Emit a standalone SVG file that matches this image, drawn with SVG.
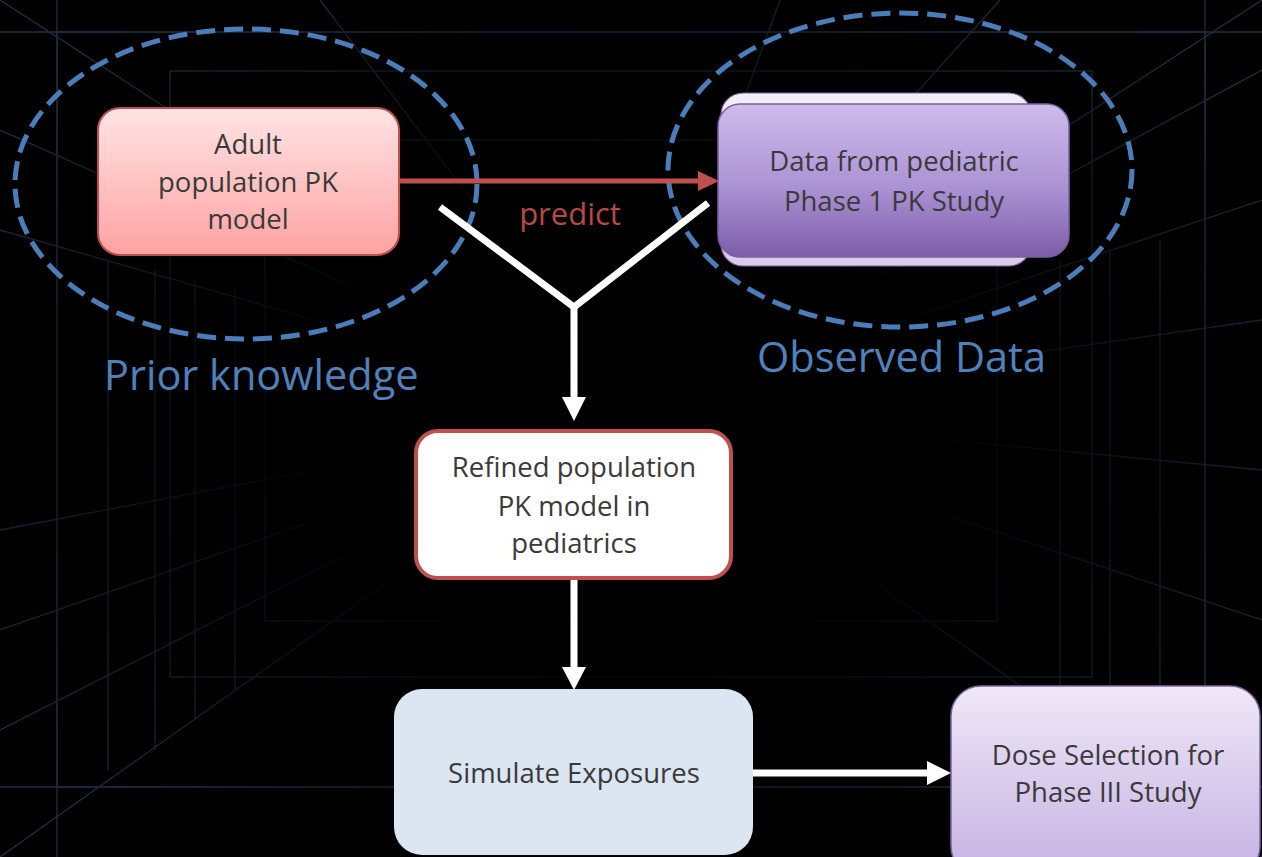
<svg xmlns="http://www.w3.org/2000/svg" width="1262" height="857" viewBox="0 0 1262 857">
<defs>
<style>
.grid line, .grid rect { stroke:#1f2e44; stroke-width:1.3; fill:none; }
.t { font-family:"Open Sans","Noto Sans",sans-serif; fill:#3a3a3a; text-anchor:middle; font-size:27.5px; }
.lbl { font-family:"Open Sans","Noto Sans",sans-serif; fill:#4f81bd; font-size:41.5px; }
.dash { fill:none; stroke:#4a7ebb; stroke-width:5; stroke-dasharray:19 9; }
.wl { stroke:#ffffff; stroke-width:7; fill:none; }
</style>
<linearGradient id="gAdult" x1="0" y1="0" x2="0" y2="1"><stop offset="0" stop-color="#ffe4e4"/><stop offset="1" stop-color="#ffa2a2"/></linearGradient>
<linearGradient id="gData" x1="0" y1="0" x2="0" y2="1"><stop offset="0" stop-color="#cfbbec"/><stop offset="0.55" stop-color="#ab92d4"/><stop offset="1" stop-color="#7d5ca8"/></linearGradient>
<linearGradient id="gBack" x1="0" y1="0" x2="0" y2="1"><stop offset="0" stop-color="#f4eefb"/><stop offset="1" stop-color="#d7cbe8"/></linearGradient>
<linearGradient id="gDose" x1="0" y1="0" x2="0" y2="1"><stop offset="0" stop-color="#efe8f8"/><stop offset="1" stop-color="#c5b1e2"/></linearGradient>
<radialGradient id="fade" cx="0.5" cy="0.5" r="0.62"><stop offset="0" stop-color="#000" stop-opacity="1"/><stop offset="0.4" stop-color="#000" stop-opacity="0.95"/><stop offset="1" stop-color="#000" stop-opacity="0"/></radialGradient>
</defs>
<rect width="1262" height="857" fill="#000"/>
<g class="grid" id="background-grid">
<rect x="57" y="32" width="1148" height="755"/>
<rect x="170" y="71" width="922" height="606"/>
<rect x="265" y="140" width="732" height="481"/>
<line x1="0" y1="32" x2="1262" y2="32"/>
<line x1="57" y1="0" x2="57" y2="857"/>
<line x1="1205" y1="0" x2="1205" y2="857"/>
<line x1="0" y1="787" x2="1262" y2="787"/>
<line x1="0" y1="0" x2="631" y2="410"/>
<line x1="1262" y1="0" x2="631" y2="410"/>
<line x1="0" y1="857" x2="631" y2="410"/>
<line x1="1262" y1="857" x2="631" y2="410"/>
<line x1="320" y1="0" x2="631" y2="410"/>
<line x1="780" y1="0" x2="631" y2="410"/>
<line x1="1000" y1="0" x2="631" y2="410"/>
<line x1="0" y1="130" x2="631" y2="410"/>
<line x1="0" y1="230" x2="631" y2="410"/>
<line x1="1262" y1="70" x2="631" y2="410"/>
<line x1="1262" y1="200" x2="631" y2="410"/>
<line x1="1262" y1="320" x2="631" y2="410"/>
<line x1="1262" y1="470" x2="631" y2="410"/>
<line x1="1262" y1="620" x2="631" y2="410"/>
<line x1="0" y1="530" x2="631" y2="410"/>
<line x1="0" y1="630" x2="631" y2="410"/>
<line x1="0" y1="730" x2="631" y2="410"/>
<line x1="108" y1="260" x2="108" y2="770"/>
<line x1="155" y1="270" x2="155" y2="750"/>
<line x1="195" y1="280" x2="195" y2="720"/>
<line x1="235" y1="290" x2="235" y2="690"/>
<line x1="1060" y1="260" x2="1060" y2="720"/>
<line x1="1110" y1="250" x2="1110" y2="750"/>
<line x1="1160" y1="240" x2="1160" y2="770"/>
</g>
<rect width="1262" height="857" fill="url(#fade)"/>

<g id="ellipse-prior">
<ellipse class="dash" cx="246" cy="184" rx="231" ry="155"/>
</g>
<g id="ellipse-observed">
<ellipse class="dash" cx="900" cy="170" rx="232" ry="157"/>
</g>

<g id="connectors">
<line x1="399" y1="181" x2="700" y2="181" stroke="#c0504d" stroke-width="5"/>
<polygon points="698,171 719,181 698,191" fill="#c0504d"/>
<polyline class="wl" points="440,207 574,307 708,203"/>
<line class="wl" x1="574" y1="306" x2="574" y2="399"/>
<polygon points="562,397 586,397 574,421" fill="#fff"/>
<line class="wl" x1="574" y1="579" x2="574" y2="669"/>
<polygon points="562,667 586,667 574,690" fill="#fff"/>
<line class="wl" x1="753" y1="773" x2="929" y2="773"/>
<polygon points="927,761 951,773 927,785" fill="#fff"/>
</g>

<g id="node-adult">
<rect x="98" y="108" width="301" height="147" rx="22" fill="url(#gAdult)" stroke="#c0504d" stroke-width="2"/>
<text class="t" x="248" y="154">Adult</text>
<text class="t" x="248" y="192">population PK</text>
<text class="t" x="248" y="229">model</text>
</g>

<g id="label-predict">
<text x="570" y="225" font-family="Open Sans, Noto Sans, sans-serif" font-size="31" fill="#b84945" text-anchor="middle">predict</text>
</g>

<g id="node-data">
<rect x="721" y="93" width="310" height="173" rx="22" fill="url(#gBack)" stroke="#8064a2" stroke-width="1.2"/>
<rect x="718" y="104" width="351" height="153" rx="22" fill="url(#gData)" stroke="#7a5fa0" stroke-width="1.5"/>
<text class="t" x="894" y="171">Data from pediatric</text>
<text class="t" x="894" y="211">Phase 1 PK Study</text>
</g>

<g id="node-refined">
<rect x="416" y="431" width="315" height="147" rx="22" fill="#fff" stroke="#c0504d" stroke-width="4"/>
<text class="t" x="574" y="477">Refined population</text>
<text class="t" x="574" y="516">PK model in</text>
<text class="t" x="574" y="553">pediatrics</text>
</g>

<g id="node-simulate">
<rect x="394" y="689" width="359" height="166" rx="28" fill="#dce6f2"/>
<text class="t" x="574" y="783">Simulate Exposures</text>
</g>

<g id="node-dose">
<rect x="951" y="686" width="309" height="190" rx="30" fill="url(#gDose)" stroke="#8064a2" stroke-width="1.5"/>
<text class="t" x="1108" y="765">Dose Selection for</text>
<text class="t" x="1108" y="802">Phase III Study</text>
</g>

<g id="labels">
<text class="lbl" x="104" y="390">Prior knowledge</text>
<text class="lbl" x="757" y="372">Observed Data</text>
</g>
</svg>
